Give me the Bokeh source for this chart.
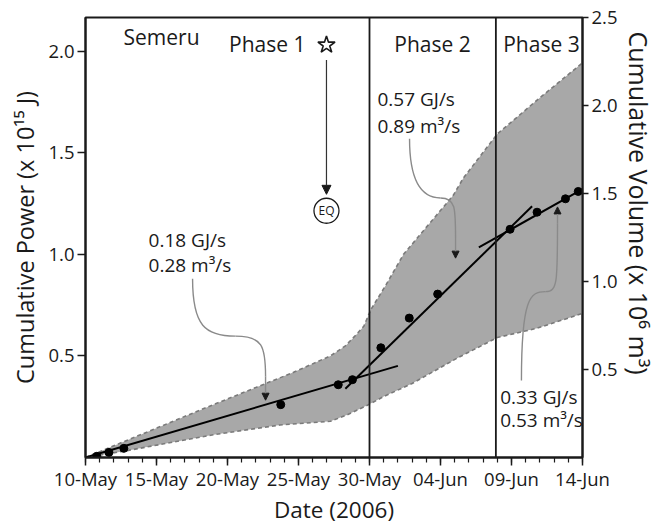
import numpy as np
import pandas as pd
from bokeh.plotting import figure
from bokeh.models import (Range1d, LinearAxis, FixedTicker, DatetimeTickFormatter,
                          NumeralTickFormatter, Span, Arrow, NormalHead, Title)
from bokeh.core.properties import value
from bokeh.embed import file_html
from bokeh.resources import INLINE

# ---- time base: x values are days after 10 May 2006 ----
START = pd.Timestamp("2006-05-10")
DAY_MS = 86_400_000


def day_to_ms(d):
    return START.value / 1e6 + np.asarray(d, dtype=float) * DAY_MS


# ---- observed cumulative thermal power (x 10^15 J) ----
obs_day = [0.8, 1.65, 2.7, 13.75, 17.8, 18.8, 20.8, 22.8, 24.8, 29.9, 31.8, 33.8, 34.7]
obs_power = [0.006, 0.025, 0.045, 0.26, 0.358, 0.383, 0.54, 0.686, 0.804,
             1.123, 1.207, 1.273, 1.309]

# ---- uncertainty envelope (upper / lower bounds) ----
upper_day = [0, 9, 14.65, 17.25, 18.3, 19.1, 19.6, 20.1, 21.2, 22.4, 25.9, 26.6, 29.0, 32.0, 35.0]
upper_power = [0, 0.26, 0.419, 0.50, 0.549, 0.607, 0.646, 0.728, 0.854, 1.0, 1.29, 1.374,
               1.592, 1.77, 1.942]
lower_day = [0, 2.7, 9, 13.7, 17.25, 18.4, 19.85, 21.0, 23.0, 26.2, 29.0, 31.8, 35.0]
lower_power = [0, 0.031, 0.112, 0.16, 0.178, 0.209, 0.257, 0.30, 0.364, 0.49, 0.59, 0.636, 0.709]

# ---- linear fits for each eruptive phase ----
fit1_day, fit1_power = [0.0, 22.0], [0.0, 0.451]
fit2_day, fit2_power = [18.3, 31.45], [0.338, 1.236]
fit3_day, fit3_power = [27.7, 35.0], [1.034, 1.32]

# phase boundaries (days after 10 May)
phase_breaks = [20.0, 28.9]

# axis ticks
major_days = [0, 5, 10, 15, 20, 25, 30, 35]
minor_days = list(range(0, 36))
power_ticks = [0.5, 1.0, 1.5, 2.0]
volume_ticks = [0.5, 1.0, 1.5, 2.0, 2.5]

FONT = "Open Sans"
INK = "#1a1a1a"

p = figure(width=662, height=527, x_axis_type="datetime",
           x_range=Range1d(float(day_to_ms(0)), float(day_to_ms(35))),
           y_range=Range1d(0, 2.165),
           output_backend="svg", toolbar_location=None,
           min_border_left=85, min_border_right=80,
           min_border_top=17, min_border_bottom=64)
p.extra_y_ranges = {"vol": Range1d(0, 2.5)}
p.xgrid.visible = False
p.ygrid.visible = False
p.outline_line_color = INK
p.outline_line_width = 2
p.background_fill_color = "white"
p.border_fill_color = "white"

# envelope
env_x = list(day_to_ms(upper_day)) + list(day_to_ms(lower_day[::-1]))
env_y = list(upper_power) + list(lower_power[::-1])
p.patch(env_x, env_y, fill_color="#a8a8a8", line_color=None)
p.line(day_to_ms(upper_day), upper_power, line_color="#7a7a7a", line_width=1.6,
       line_dash="4 3")
p.line(day_to_ms(lower_day), lower_power, line_color="#7a7a7a", line_width=1.6,
       line_dash="4 3")

# phase separators
for d in phase_breaks:
    p.add_layout(Span(location=float(day_to_ms(d)), dimension="height",
                      line_color=INK, line_width=1.8))

# fits and observations
for fx, fy in [(fit1_day, fit1_power), (fit2_day, fit2_power), (fit3_day, fit3_power)]:
    p.line(day_to_ms(fx), fy, line_color="black", line_width=2)
p.scatter(day_to_ms(obs_day), obs_power, marker="circle", size=8,
          fill_color="black", line_color="black")

# ---- labels ----
def label(x, y, txt, size="19px", align="left", baseline="middle"):
    p.text(x=[float(day_to_ms(x))], y=[y], text=[txt], text_font=value(FONT),
           text_font_size=size, text_align=align, text_baseline=baseline,
           text_color=INK)


label(2.68, 2.068, "Semeru", size="21px")
label(12.8, 2.034, "Phase 1", size="21px", align="center")
label(24.44, 2.034, "Phase 2", size="21px", align="center")
label(32.11, 2.034, "Phase 3", size="21px", align="center")

label(4.44, 1.068, "0.18 GJ/s")
label(4.44, 0.947, "0.28 m³/s")
label(20.56, 1.762, "0.57 GJ/s")
label(20.56, 1.631, "0.89 m³/s")
label(29.2, 0.296, "0.33 GJ/s")
label(29.2, 0.184, "0.53 m³/s")

# earthquake marker
p.scatter([float(day_to_ms(16.97))], [2.03], marker="star", size=18,
          fill_color="white", line_color=INK, line_width=1.6)
p.add_layout(Arrow(end=NormalHead(size=9, fill_color=INK, line_color=INK),
                   x_start=float(day_to_ms(16.97)), y_start=1.956,
                   x_end=float(day_to_ms(16.97)), y_end=1.295,
                   line_color="#333333", line_width=1.2))
p.scatter([float(day_to_ms(16.97))], [1.214], marker="circle", size=25,
          fill_color="white", line_color=INK, line_width=1.3)
label(16.97, 1.214, "EQ", size="12px", align="center")

# curved leader lines from the rate labels
CURVE = "#8a8a8a"
leaders = [
    # (x0, y0, cx0, cy0, cx1, cy1, x1, y1) in days / power units
    (7.54, 0.879, 7.54, 0.646, 8.45, 0.597, 10.56, 0.597),
    (10.56, 0.597, 12.46, 0.597, 12.68, 0.549, 12.68, 0.40),
    (22.82, 1.568, 22.82, 1.325, 23.94, 1.277, 25.0, 1.277),
    (25.0, 1.277, 26.06, 1.277, 26.06, 1.228, 26.06, 1.08),
    (30.70, 0.379, 30.70, 0.791, 31.34, 0.816, 32.39, 0.816),
    (32.39, 0.816, 33.24, 0.816, 33.24, 0.864, 33.24, 1.15),
]
for x0, y0, cx0, cy0, cx1, cy1, x1, y1 in leaders:
    p.bezier(x0=[float(day_to_ms(x0))], y0=[y0], x1=[float(day_to_ms(x1))], y1=[y1],
             cx0=[float(day_to_ms(cx0))], cy0=[cy0], cx1=[float(day_to_ms(cx1))], cy1=[cy1],
             line_color=CURVE, line_width=1.4)

for xd, ys, ye in [(12.68, 0.40, 0.282), (26.06, 1.08, 0.981), (33.24, 1.15, 1.233)]:
    p.add_layout(Arrow(end=NormalHead(size=7, fill_color=INK, line_color=INK),
                       x_start=float(day_to_ms(xd)), y_start=ys,
                       x_end=float(day_to_ms(xd)), y_end=ye,
                       line_color=CURVE, line_width=1.4))

# ---- axes ----
xa = p.xaxis[0]
xa.ticker = FixedTicker(ticks=list(day_to_ms(major_days)),
                        minor_ticks=list(day_to_ms(minor_days)))
fmt = "%d-%b"
xa.formatter = DatetimeTickFormatter(days=fmt, months=fmt, hours=fmt, years=fmt,
                                     context=None)
xa.axis_label = "Date (2006)"
xa.major_tick_in = 0
xa.major_tick_out = 8
xa.minor_tick_in = 0
xa.minor_tick_out = 5
xa.major_label_standoff = 0
xa.axis_label_standoff = 0

ya = p.yaxis[0]
ya.ticker = FixedTicker(ticks=power_ticks)
ya.formatter = NumeralTickFormatter(format="0.0")
ya.axis_label = "Cumulative Power (x 10¹⁵ J)"
ya.major_tick_in = 0
ya.major_tick_out = 8
ya.minor_tick_line_color = None
ya.major_label_standoff = 3
ya.axis_label_standoff = 4

ra = LinearAxis(y_range_name="vol", ticker=FixedTicker(ticks=volume_ticks),
                formatter=NumeralTickFormatter(format="0.0"))
ra.major_tick_in = 0
ra.major_tick_out = 6
ra.minor_tick_line_color = None
ra.major_label_standoff = 3
p.add_layout(ra, "right")

# right-hand axis title, anchored near the top of the frame
p.add_layout(Title(text="Cumulative Volume (x 10⁶ m³)", align="left", offset=14,
                   standoff=2, text_font=FONT, text_font_size="25px",
                   text_font_style="normal", text_color=INK), "right")

for ax in [xa, ya, ra]:
    ax.axis_line_color = INK
    ax.axis_line_width = 2
    ax.major_tick_line_color = INK
    ax.major_tick_line_width = 1.5
    ax.minor_tick_line_color = INK if ax is xa else None
    ax.minor_tick_line_width = 1.2
    ax.major_label_text_font = FONT
    ax.major_label_text_font_size = "18.5px"
    ax.major_label_text_color = INK
    ax.axis_label_text_font = FONT
    ax.axis_label_text_font_size = "22.5px"
    ax.axis_label_text_font_style = "normal"
    ax.axis_label_text_color = INK
ya.axis_label_text_font_size = "23.5px"

open("out.html", "w").write(file_html(p, INLINE))
